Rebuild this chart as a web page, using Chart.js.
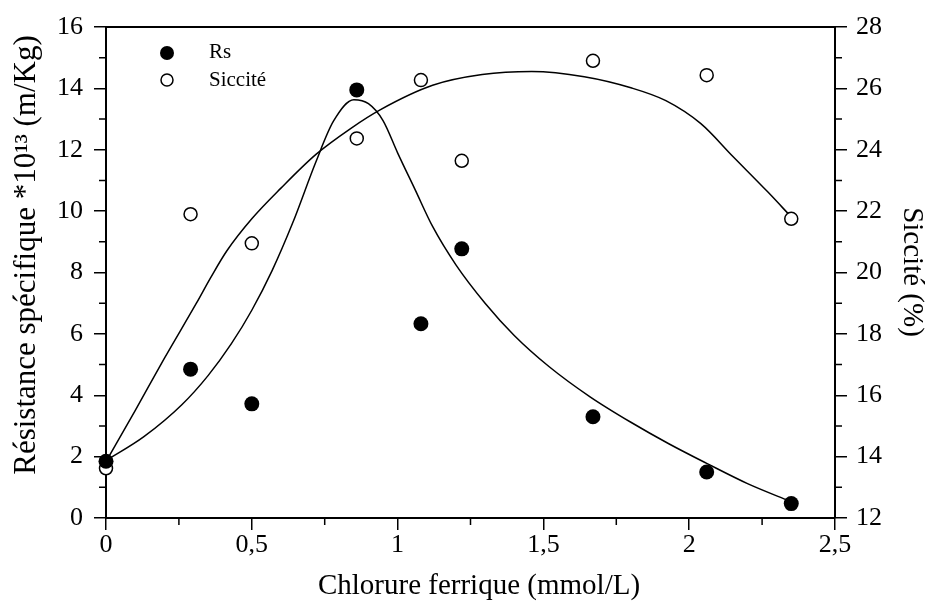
<!DOCTYPE html>
<html>
<head>
<meta charset="utf-8">
<script src="https://cdn.jsdelivr.net/npm/chart.js@4.4.1/dist/chart.umd.min.js"></script>
<style>
  html, body { margin: 0; padding: 0; background: #fff; }
  #wrap { width: 932px; height: 603px; position: relative; }
</style>
</head>
<body>
<div id="wrap"><canvas id="chart"></canvas></div>
<script>
/* Données */
const doseFer = [0, 0.29, 0.5, 0.86, 1.08, 1.22, 1.67, 2.06, 2.35];   // mmol/L
const rsValues = [1.85, 4.85, 3.72, 13.95, 6.33, 8.77, 3.3, 1.5, 0.47]; // *10^13 m/Kg
const siccValues = [13.62, 21.9, 20.95, 24.37, 26.27, 23.64, 26.9, 26.43, 21.75]; // %

/* Courbes d'ajustement (relevées point par point sur la figure) */
const rsFitX = [0, 0.13, 0.26, 0.35, 0.43, 0.5, 0.57, 0.64, 0.72, 0.78, 0.85, 0.9, 0.95, 1.0, 1.06, 1.12, 1.2, 1.3, 1.4, 1.52, 1.66, 1.8, 1.93, 2.06, 2.2, 2.35];
const rsFitY = [1.87, 2.65, 3.69, 4.64, 5.68, 6.77, 8.07, 9.61, 11.61, 12.93, 13.63, 13.5, 12.95, 11.9, 10.7, 9.5, 8.25, 7.0, 5.95, 4.93, 3.95, 3.12, 2.42, 1.78, 1.12, 0.53];
const siccFitX = [0, 0.1, 0.2, 0.31, 0.36, 0.414, 0.5, 0.6, 0.72, 0.84, 0.94, 1.12, 1.29, 1.46, 1.64, 1.8, 1.92, 2.04, 2.15, 2.27, 2.35];
const siccFitY = [13.84, 15.5, 17.2, 19.0, 19.85, 20.7, 21.75, 22.75, 23.85, 24.7, 25.3, 26.1, 26.45, 26.55, 26.38, 26.02, 25.6, 24.85, 23.78, 22.62, 21.81];

/* Graduations */
const xTicks = [0, 0.5, 1, 1.5, 2, 2.5];
const xTickLabels = ['0', '0,5', '1', '1,5', '2', '2,5'];
const xMinor = [0.25, 0.75, 1.25, 1.75, 2.25];
const yTicks = [0, 2, 4, 6, 8, 10, 12, 14, 16];
const yMinor = [1, 3, 5, 7, 9, 11, 13, 15];
const y2Ticks = [12, 14, 16, 18, 20, 22, 24, 26, 28];
const y2Minor = [13, 15, 17, 19, 21, 23, 25, 27];

const serif = '"Liberation Serif", "DejaVu Serif", serif';
const pts = (xs, ys) => xs.map((x, i) => ({ x: x, y: ys[i] }));

/* petites graduations + cadre du haut */
const frameAndMinor = {
  id: 'frameAndMinor',
  afterDraw(chart) {
    const { ctx, chartArea: a, scales } = chart;
    ctx.save();
    ctx.strokeStyle = '#000';
    ctx.lineWidth = 2;
    ctx.beginPath();
    ctx.moveTo(a.left, a.top); ctx.lineTo(a.right, a.top);
    ctx.stroke();
    ctx.lineWidth = 1.5;
    ctx.beginPath();
    xMinor.forEach(v => {
      const p = scales.x.getPixelForValue(v);
      ctx.moveTo(p, a.bottom); ctx.lineTo(p, a.bottom + 7);
    });
    yMinor.forEach(v => {
      const p = scales.y.getPixelForValue(v);
      ctx.moveTo(a.left, p); ctx.lineTo(a.left - 7, p);
    });
    y2Minor.forEach(v => {
      const p = scales.y2.getPixelForValue(v);
      ctx.moveTo(a.right, p); ctx.lineTo(a.right + 7, p);
    });
    ctx.stroke();
    ctx.restore();
  }
};

/* titres des axes (positions calées sur l'original) */
const axisTitles = {
  id: 'axisTitles',
  afterDraw(chart) {
    const ctx = chart.ctx;
    ctx.save();
    ctx.fillStyle = '#000';
    ctx.textAlign = 'center';
    ctx.textBaseline = 'middle';
    ctx.font = '29px ' + serif;
    ctx.fillText('Chlorure ferrique (mmol/L)', 479, 586);

    ctx.save();
    ctx.font = '31px ' + serif;
    ctx.translate(27, 255);
    ctx.rotate(-Math.PI / 2);
    ctx.fillText('Résistance spécifique *10¹³ (m/Kg)', 0, 0);
    ctx.restore();

    ctx.save();
    ctx.translate(912, 272);
    ctx.rotate(Math.PI / 2);
    ctx.fillText('Siccité (%)', 0, 0);
    ctx.restore();
    ctx.restore();
  }
};

/* légende dans la zone du graphique */
const innerLegend = {
  id: 'innerLegend',
  afterDraw(chart) {
    const ctx = chart.ctx;
    const ds = chart.data.datasets;
    ctx.save();
    ctx.font = '21px ' + serif;
    ctx.textBaseline = 'middle';
    ctx.fillStyle = '#000';
    // Rs
    ctx.beginPath();
    ctx.arc(167, 53, 7, 0, Math.PI * 2);
    ctx.fill();
    ctx.fillText(ds[0].label, 209, 52);
    // Siccité
    ctx.beginPath();
    ctx.arc(167, 80, 6, 0, Math.PI * 2);
    ctx.lineWidth = 1.5;
    ctx.strokeStyle = '#000';
    ctx.stroke();
    ctx.fillText(ds[1].label, 209, 80);
    ctx.restore();
  }
};

const axisCommon = {
  grid: { drawOnChartArea: false, drawTicks: true, tickLength: 12, color: '#000', lineWidth: 1.5 },
  border: { display: true, color: '#000', width: 2 },
  ticks: { color: '#000', font: { family: serif, size: 26 } }
};

new Chart(document.getElementById('chart'), {
  type: 'scatter',
  data: {
    datasets: [
      {
        label: 'Rs',
        data: pts(doseFer, rsValues),
        yAxisID: 'y',
        pointRadius: 7.5,
        pointBackgroundColor: '#000',
        pointBorderColor: '#000',
        pointBorderWidth: 0,
        showLine: false,
        clip: false,
        order: 0
      },
      {
        label: 'Siccité',
        data: pts(doseFer, siccValues),
        yAxisID: 'y2',
        pointRadius: 6.5,
        pointBackgroundColor: '#fff',
        pointBorderColor: '#000',
        pointBorderWidth: 1.5,
        showLine: false,
        clip: false,
        order: 1
      },
      {
        label: 'Rs ajust.',
        data: pts(rsFitX, rsFitY),
        yAxisID: 'y',
        showLine: true,
        pointRadius: 0,
        borderColor: '#000',
        borderWidth: 1.5,
        cubicInterpolationMode: 'monotone',
        order: 2
      },
      {
        label: 'Siccité ajust.',
        data: pts(siccFitX, siccFitY),
        yAxisID: 'y2',
        showLine: true,
        pointRadius: 0,
        borderColor: '#000',
        borderWidth: 1.5,
        cubicInterpolationMode: 'monotone',
        order: 2
      }
    ]
  },
  options: {
    responsive: true,
    maintainAspectRatio: false,
    animation: false,
    layout: { padding: { top: 27, left: 0, right: 0, bottom: 0 } },
    plugins: { legend: { display: false }, tooltip: { enabled: false } },
    scales: {
      x: {
        ...axisCommon,
        type: 'linear',
        position: 'bottom',
        min: 0, max: 2.5,
        ticks: { ...axisCommon.ticks, padding: 0, maxRotation: 0,
          callback: (v, i) => xTickLabels[i] },
        afterBuildTicks: s => { s.ticks = xTicks.map(v => ({ value: v })); },
        afterFit: s => { s.height = 85; }
      },
      y: {
        ...axisCommon,
        position: 'left',
        min: 0, max: 16,
        ticks: { ...axisCommon.ticks, padding: 11 },
        afterBuildTicks: s => { s.ticks = yTicks.map(v => ({ value: v })); },
        afterFit: s => { s.width = 106; }
      },
      y2: {
        ...axisCommon,
        position: 'right',
        min: 12, max: 28,
        ticks: { ...axisCommon.ticks, padding: 9 },
        afterBuildTicks: s => { s.ticks = y2Ticks.map(v => ({ value: v })); },
        afterFit: s => { s.width = 97; }
      }
    }
  },
  plugins: [frameAndMinor, axisTitles, innerLegend]
});
</script>
</body>
</html>
